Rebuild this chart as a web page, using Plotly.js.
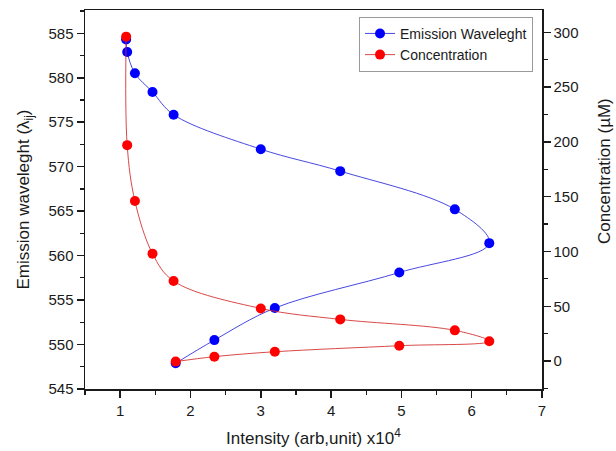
<!DOCTYPE html>
<html><head><meta charset="utf-8">
<script src="https://cdn.plot.ly/plotly-3.0.1.min.js"></script>
<style>html,body{margin:0;padding:0;background:#fff}</style>
</head><body>
<div id="chart" style="width:616px;height:451px"></div>
<script>
// Intensity (arb. unit, x10^4), shared by both series
const intensity = [1.085, 1.10, 1.21, 1.46, 1.76, 3.00, 4.13, 5.76, 6.25, 4.97, 3.20, 2.34, 1.79];
// Emission wavelength (nm)
const emissionWavelength = [584.3, 582.9, 580.5, 578.4, 575.85, 571.97, 569.5, 565.2, 561.4, 558.1, 554.1, 550.5, 547.9];
// Concentration (uM)
const concentration = [296, 197, 146, 98, 73, 48, 38, 28, 18, 14, 8.5, 4, -0.5];

const seriesNames = ['Emission Waveleght', 'Concentration'];
const axisTitles = ['Intensity (arb,unit) x10<sup>4</sup>', 'Emission waveleght (λ<sub>ij</sub>)', 'Concentration (µM)'];
const FONT = 'Liberation Sans, Arial, sans-serif';
const INK = '#1a1a1a';

const traces = [
  {
    x: intensity, y: emissionWavelength, name: seriesNames[0],
    mode: 'lines+markers', type: 'scatter',
    line: {shape: 'spline', smoothing: 1, width: 1, color: 'rgba(40,40,220,0.85)'},
    marker: {size: 10, color: '#0000ff'},
    yaxis: 'y'
  },
  {
    x: intensity, y: concentration, name: seriesNames[1],
    mode: 'lines+markers', type: 'scatter',
    line: {shape: 'spline', smoothing: 1, width: 1, color: 'rgba(210,40,40,0.85)'},
    marker: {size: 10, color: '#ff0000'},
    yaxis: 'y2'
  }
];

const axisCommon = {
  showgrid: false, zeroline: false, showline: true,
  linecolor: INK, linewidth: 1.5,
  ticks: 'outside', ticklen: 7, tickwidth: 1.5, tickcolor: INK,
  tickfont: {family: FONT, size: 15, color: INK}
};

const layout = {
  width: 616, height: 451,
  margin: {l: 85, r: 74, t: 10, b: 62},
  paper_bgcolor: '#fff', plot_bgcolor: '#fff',
  font: {family: FONT, color: INK},
  showlegend: true,
  legend: {
    x: 0.5996, y: 0.982, xanchor: 'left', yanchor: 'top',
    bordercolor: '#9a9a9a', borderwidth: 1, bgcolor: '#fff',
    font: {family: FONT, size: 14, color: INK},
    tracegroupgap: 0
  },
  xaxis: Object.assign({}, axisCommon, {
    range: [0.5, 7], tick0: 0, dtick: 1, mirror: true,
    minor: {dtick: 0.5, ticks: 'outside', ticklen: 4, tickwidth: 1.2, tickcolor: INK, showgrid: false},
    title: {text: axisTitles[0], font: {family: FONT, size: 17, color: INK}, standoff: 14},
    automargin: false
  }),
  yaxis: Object.assign({}, axisCommon, {
    range: [545, 587.62], tick0: 545, dtick: 5,
    minor: {dtick: 2.5, ticks: 'outside', ticklen: 4, tickwidth: 1.2, tickcolor: INK, showgrid: false},
    title: {text: axisTitles[1], font: {family: FONT, size: 17, color: INK}, standoff: 14},
    automargin: false
  }),
  yaxis2: Object.assign({}, axisCommon, {
    overlaying: 'y', side: 'right',
    range: [-25.5, 320.3], tick0: 0, dtick: 50,
    minor: {dtick: 25, ticks: 'outside', ticklen: 4, tickwidth: 1.2, tickcolor: INK, showgrid: false},
    automargin: false
  }),
  annotations: [{
    text: axisTitles[2], textangle: -90,
    xref: 'paper', yref: 'paper', x: 1.1357, y: 0.575,
    xanchor: 'center', yanchor: 'middle', showarrow: false,
    font: {family: FONT, size: 17, color: INK}
  }]
};

Plotly.newPlot('chart', traces, layout, {displayModeBar: false, staticPlot: true});
</script>
</body></html>
